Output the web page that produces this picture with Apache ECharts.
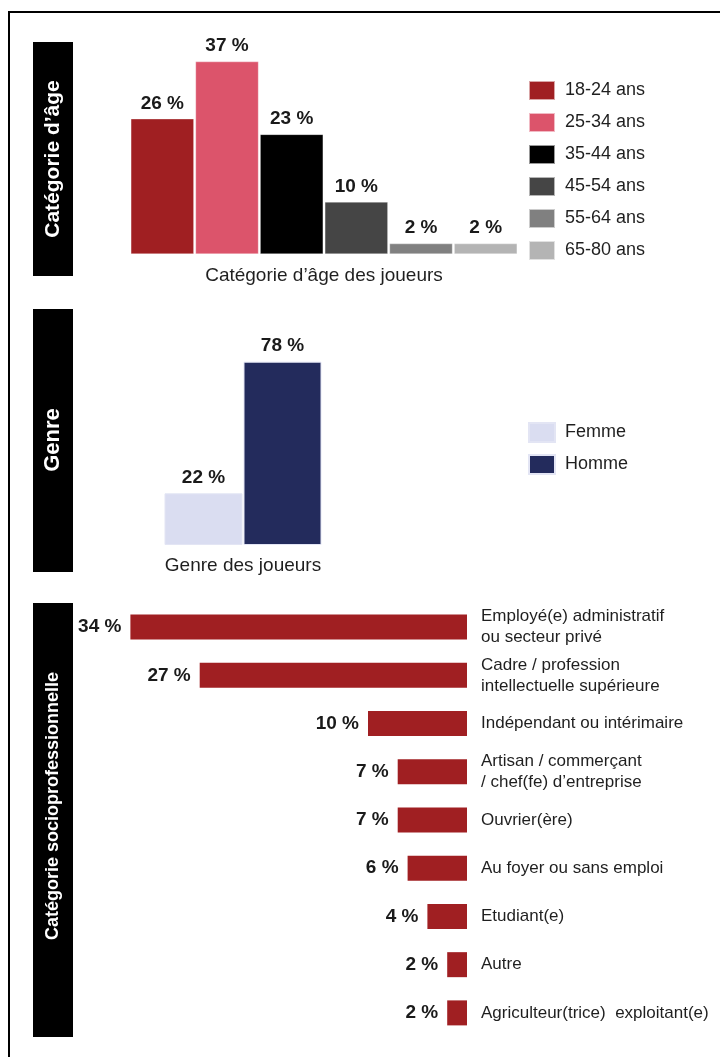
<!DOCTYPE html>
<html>
<head>
<meta charset="utf-8">
<script src="https://cdn.jsdelivr.net/npm/echarts@6/dist/echarts.min.js"></script>
<style>
html,body{margin:0;padding:0;background:#fff;}
#chart{width:720px;height:1057px;}
</style>
</head>
<body>
<div id="chart"></div>
<script>
// ---- Data ----
var ageCategories = ['18-24 ans', '25-34 ans', '35-44 ans', '45-54 ans', '55-64 ans', '65-80 ans'];
var ageValues = [26, 37, 23, 10, 2, 2];
var ageColors = ['#A01F22', '#DC546B', '#000000', '#454545', '#808080', '#B4B4B4'];

var genderCategories = ['Femme', 'Homme'];
var genderValues = [22, 78];
var genderColors = ['#DADDF1', '#232B5C'];

var cspCategories = [
  'Employé(e) administratif\nou secteur privé',
  'Cadre / profession\nintellectuelle supérieure',
  'Indépendant ou intérimaire',
  'Artisan / commerçant\n/ chef(fe) d’entreprise',
  'Ouvrier(ère)',
  'Au foyer ou sans emploi',
  'Etudiant(e)',
  'Autre',
  'Agriculteur(trice)  exploitant(e)'
];
var cspValues = [34, 27, 10, 7, 7, 6, 4, 2, 2];
var cspColor = '#A01F22';

var sectionTitles = ['Catégorie d’âge', 'Genre', 'Catégorie socioprofessionnelle'];
var axisNames = ['Catégorie d’âge des joueurs', 'Genre des joueurs'];

// ---- Chart ----
var FONT = '"Liberation Sans", Arial, sans-serif';
var chart = echarts.init(document.getElementById('chart'), null, {renderer: 'canvas'});

var valueLabel = {
  show: true,
  position: 'top',
  distance: 6,
  formatter: '{c} %',
  fontFamily: FONT,
  fontSize: 19,
  fontWeight: 'bold',
  color: '#1a1a1a'
};

var series = [];
ageCategories.forEach(function (name, i) {
  series.push({
    name: name,
    type: 'bar',
    stack: 'age',
    xAxisIndex: 0,
    yAxisIndex: 0,
    barWidth: 63,
    itemStyle: {color: ageColors[i], borderColor: 'rgba(255,255,255,0.6)', borderWidth: 0.5},
    label: valueLabel,
    data: ageCategories.map(function (c, j) { return j === i ? ageValues[i] : '-'; })
  });
});
genderCategories.forEach(function (name, i) {
  series.push({
    name: name,
    type: 'bar',
    stack: 'gender',
    xAxisIndex: 1,
    yAxisIndex: 1,
    barWidth: 78,
    itemStyle: {color: genderColors[i], borderColor: '#E3E5F4', borderWidth: 1},
    label: valueLabel,
    data: genderCategories.map(function (c, j) { return j === i ? genderValues[i] : '-'; })
  });
});
series.push({
  name: 'CSP',
  type: 'bar',
  xAxisIndex: 2,
  yAxisIndex: 2,
  barWidth: 25,
  itemStyle: {color: cspColor},
  label: {
    show: true,
    position: 'left',
    distance: 9,
    formatter: '{c} %',
    fontFamily: FONT,
    fontSize: 19,
    fontWeight: 'bold',
    color: '#1a1a1a'
  },
  data: cspValues
});

function boxGraphic(x, y, w, h, text, fontSize, cy) {
  return [{
    type: 'rect',
    shape: {x: x, y: y, width: w, height: h},
    style: {fill: '#000'}
  }, {
    type: 'text',
    x: x + w / 2,
    y: cy,
    rotation: Math.PI / 2,
    style: {
      text: text,
      fill: '#fff',
      font: 'bold ' + fontSize + 'px ' + FONT,
      align: 'center',
      verticalAlign: 'middle'
    }
  }];
}

var graphics = [{
  type: 'polyline',
  shape: {points: [[9, 1057], [9, 12], [720, 12]]},
  style: {stroke: '#000', lineWidth: 2, fill: null}
}].concat(
  boxGraphic(33, 42, 40, 234, sectionTitles[0], 21, 159),
  boxGraphic(33, 309, 40, 263, sectionTitles[1], 22, 440),
  boxGraphic(33, 603, 40, 434, sectionTitles[2], 18, 806)
);

var legendText = {fontFamily: FONT, fontSize: 18, color: '#1f1f1f', padding: [0, 0, 0, 5]};

chart.setOption({
  animation: false,
  backgroundColor: '#fff',
  textStyle: {fontFamily: FONT},
  graphic: graphics,
  legend: [{
    data: ageCategories,
    orient: 'vertical',
    left: 528,
    top: 80,
    padding: 0,
    itemWidth: 26,
    itemHeight: 19,
    itemGap: 11,
    icon: 'rect',
    selectedMode: false,
    textStyle: legendText
  }, {
    data: genderCategories,
    orient: 'vertical',
    left: 528,
    top: 422,
    padding: 0,
    itemWidth: 26,
    itemHeight: 19,
    itemGap: 11,
    icon: 'rect',
    selectedMode: false,
    textStyle: legendText
  }],
  grid: [
    {left: 130, top: 46, width: 388, height: 208},
    {left: 164, top: 310, width: 158, height: 235},
    {left: 71, top: 603, width: 396, height: 434}
  ],
  xAxis: [{
    type: 'category',
    gridIndex: 0,
    data: ageCategories,
    axisLine: {show: false},
    axisTick: {show: false},
    axisLabel: {show: false},
    name: axisNames[0],
    nameLocation: 'middle',
    nameGap: 12,
    nameTextStyle: {fontFamily: FONT, fontSize: 19, color: '#1f1f1f'}
  }, {
    type: 'category',
    gridIndex: 1,
    data: genderCategories,
    axisLine: {show: false},
    axisTick: {show: false},
    axisLabel: {show: false},
    name: axisNames[1],
    nameLocation: 'middle',
    nameGap: 11,
    nameTextStyle: {fontFamily: FONT, fontSize: 19, color: '#1f1f1f'}
  }, {
    type: 'value',
    gridIndex: 2,
    min: 0,
    max: 40,
    inverse: true,
    show: false
  }],
  yAxis: [{
    type: 'value', gridIndex: 0, min: 0, max: 40, show: false
  }, {
    type: 'value', gridIndex: 1, min: 0, max: 100, show: false
  }, {
    type: 'category',
    gridIndex: 2,
    data: cspCategories,
    inverse: true,
    position: 'right',
    axisLine: {show: false},
    axisTick: {show: false},
    axisLabel: {
      margin: 14,
      align: 'left',
      fontFamily: FONT,
      fontSize: 17,
      lineHeight: 21,
      color: '#1f1f1f'
    }
  }],
  series: series
});
</script>
</body>
</html>
